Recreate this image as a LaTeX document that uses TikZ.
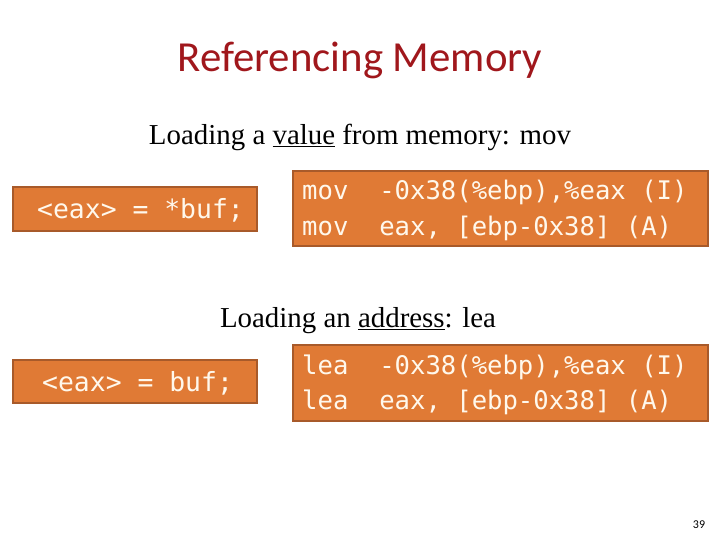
\documentclass[tikz,border=0pt]{standalone}
\usepackage{fontspec}
\setmainfont{Liberation Serif}
\newfontfamily\titlefont{Carlito}
\setmonofont{DejaVu Sans Mono}
\usepackage{tikz}
\usetikzlibrary{positioning}
\definecolor{boxfill}{HTML}{E07A35}
\definecolor{boxline}{HTML}{A85A2A}
\definecolor{titlered}{HTML}{A0171C}
\definecolor{codetext}{HTML}{FFF8EC}

\begin{document}
\begin{tikzpicture}[x=1bp, y=-1bp,
  codebox/.style={draw=boxline, line width=2.5bp, fill=boxfill},
  code/.style={anchor=west, inner sep=0pt, text=codetext, font=\ttfamily\fontsize{25.7}{28}\selectfont},
  srccode/.style={code, font=\ttfamily\fontsize{26.5}{28}\selectfont}]

\useasboundingbox (0,0) rectangle (720,540);

\node (title) at (360,60) [text=titlered, font=\titlefont\fontsize{43}{46}\selectfont] {Referencing Memory};

% first pair
\node (valuehead) at (360,137) [font=\fontsize{29}{32}\selectfont] {Loading a \underline{value} from memory: mov};

\draw[codebox] (13,187) rectangle (257,231);
\node[srccode] (derefc) at (37,210) {<eax> = *buf;};

\draw[codebox] (293,171) rectangle (708,246);
\node[code] (movi) at (302,192) {mov\ \ -0x38(\%ebp),\%eax (I)};
\node[code] (mova) at (302,228) {mov\ \ eax, [ebp-0x38] (A)};

% second pair
\node (addrhead) at (358,321) [font=\fontsize{29}{32}\selectfont] {Loading an \underline{address}: lea};

\draw[codebox] (13,360) rectangle (257,403);
\node[srccode] (addrc) at (42,383) {<eax> = buf;};

\draw[codebox] (293,345) rectangle (708,421);
\node[code] (leai) at (302,367) {lea\ \ -0x38(\%ebp),\%eax (I)};
\node[code] (leaa) at (302,402) {lea\ \ eax, [ebp-0x38] (A)};

\node (pagenum) at (699,525) [font=\titlefont\fontsize{12}{14}\selectfont] {39};

\end{tikzpicture}
\end{document}
